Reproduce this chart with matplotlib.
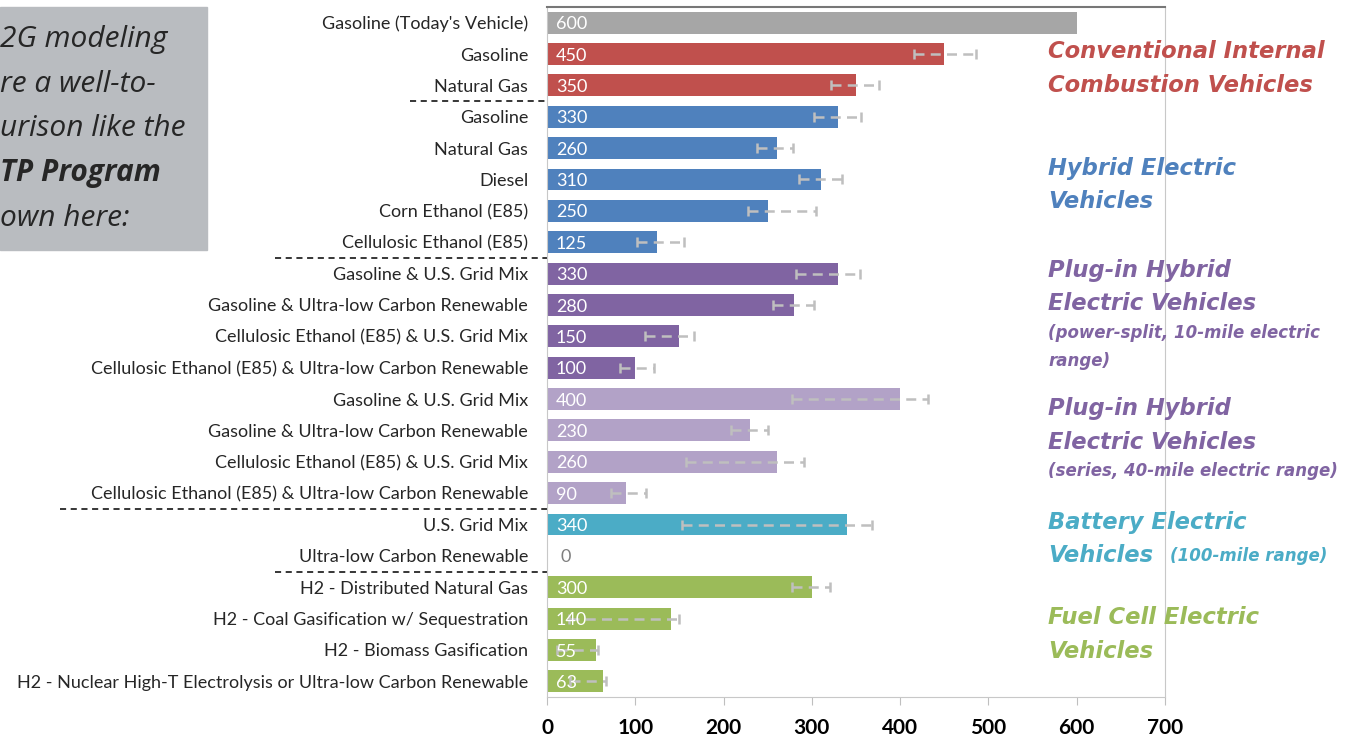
import matplotlib
matplotlib.use("Agg")
import matplotlib.pyplot as plt
from matplotlib.patches import Rectangle
import numpy as np

# datos del grafico (de arriba hacia abajo)
etiquetas = [
    "Gasoline (Today's Vehicle)",
    "Gasoline",
    "Natural Gas",
    "Gasoline",
    "Natural Gas",
    "Diesel",
    "Corn Ethanol (E85)",
    "Cellulosic Ethanol (E85)",
    "Gasoline & U.S. Grid Mix",
    "Gasoline & Ultra-low Carbon Renewable",
    "Cellulosic Ethanol (E85) & U.S. Grid Mix",
    "Cellulosic Ethanol (E85) & Ultra-low Carbon Renewable",
    "Gasoline & U.S. Grid Mix",
    "Gasoline & Ultra-low Carbon Renewable",
    "Cellulosic Ethanol (E85) & U.S. Grid Mix",
    "Cellulosic Ethanol (E85) & Ultra-low Carbon Renewable",
    "U.S. Grid Mix",
    "Ultra-low Carbon Renewable",
    "H2 - Distributed Natural Gas",
    "H2 - Coal Gasification w/ Sequestration",
    "H2 - Biomass Gasification",
    "H2 - Nuclear High-T Electrolysis or Ultra-low Carbon Renewable",
]
valores = [600, 450, 350, 330, 260, 310, 250, 125, 330, 280, 150, 100,
           400, 230, 260, 90, 340, 0, 300, 140, 55, 63]
error_bajo = [None, 416, 322, 302, 238, 285, 228, 102, 282, 256, 111, 83,
              278, 208, 158, 72, 153, None, 277, 25, 11, 26]
error_alto = [None, 486, 376, 356, 279, 334, 305, 155, 355, 302, 167, 121,
              432, 250, 291, 112, 368, None, 321, 150, 58, 67]
grupos = [0, 1, 1, 2, 2, 2, 2, 2, 3, 3, 3, 3, 4, 4, 4, 4, 5, 5, 6, 6, 6, 6]

GRIS = "#A6A6A6"
ROJO = "#C0504D"
AZUL = "#4F81BD"
MORADO = "#8064A2"
LILA = "#B2A2C7"
TURQUESA = "#4BACC6"
VERDE = "#9BBB59"
colores_grupo = [GRIS, ROJO, AZUL, MORADO, LILA, TURQUESA, VERDE]

W, H = 1356, 737
fig = plt.figure(figsize=(W / 100, H / 100), dpi=100)
ax = fig.add_axes([547 / W, 1 - 697 / H, (1165 - 547) / W, (697 - 7) / H])

n = len(valores)
y = np.arange(n)
colores = [colores_grupo[g] for g in grupos]
ax.barh(y, valores, height=0.7, color=colores, zorder=2)

# barras de error discontinuas
for i in range(n):
    if error_bajo[i] is None:
        continue
    v = valores[i]
    eb = ax.errorbar(v, i, xerr=[[v - error_bajo[i]], [error_alto[i] - v]],
                     fmt="none", ecolor="#BFBFBF", elinewidth=1.8, capsize=3.5,
                     capthick=1.8, zorder=3)
    eb[2][0].set_linestyle((0, (4, 2.5)))

# valores dentro de las barras
for i, v in enumerate(valores):
    color_txt = "white" if v > 0 else "#7F7F7F"
    ax.text(10 if v > 0 else 15, i + 0.05, str(v), color=color_txt, va="center",
            ha="left", fontsize=13, family="Lato", zorder=4)

ax.set_ylim(n - 0.5, -0.5)
ax.set_xlim(0, 700)
ax.set_yticks(y)
ax.set_yticklabels(etiquetas, fontsize=13, family="Lato", color="#262626")
ax.tick_params(axis="y", length=0, pad=13.5)
ax.set_xticks(np.arange(0, 701, 100))
ax.tick_params(axis="x", length=6, color="#BFBFBF", pad=9, labelsize=15,
               labelcolor="black")
for t in ax.get_xticklabels():
    t.set_fontweight("bold")
    t.set_family("Lato")

for lado in ["left", "right", "bottom"]:
    ax.spines[lado].set_color("#C8C8C8")
ax.spines["top"].set_color("#777777")
ax.spines["top"].set_linewidth(1.5)

# separadores entre grupos
trans = ax.get_yaxis_transform()
for yy, x0 in [(2.5, 410), (7.5, 275), (15.5, 60), (17.5, 275)]:
    ax.plot([(x0 - 547) / 618, 0], [yy, yy], transform=trans, clip_on=False,
            color="black", lw=1.1, ls=(0, (4, 3)))

# nombres de los grupos a la derecha
def texto(px, py, s, color, size=16.3):
    fig.text(px / W, 1 - py / H, s, color=color, fontsize=size,
             fontweight="bold", fontstyle="italic", family="DejaVu Sans",
             va="center", ha="left")

texto(1048, 51, "Conventional Internal", ROJO)
texto(1048, 85, "Combustion Vehicles", ROJO)
texto(1048, 168, "Hybrid Electric", AZUL)
texto(1048, 202, "Vehicles", AZUL)
texto(1048, 270, "Plug-in Hybrid", MORADO)
texto(1048, 303, "Electric Vehicles", MORADO)
texto(1048, 333, "(power-split, 10-mile electric", MORADO, 12)
texto(1048, 361, "range)", MORADO, 12)
texto(1048, 409, "Plug-in Hybrid", MORADO)
texto(1048, 442, "Electric Vehicles", MORADO)
texto(1048, 471, "(series, 40-mile electric range)", MORADO, 12)
texto(1048, 522, "Battery Electric", TURQUESA)
texto(1048, 556, "Vehicles", TURQUESA)
texto(1170, 556, "(100-mile range)", TURQUESA, 12)
texto(1048, 617, "Fuel Cell Electric", VERDE)
texto(1048, 652, "Vehicles", VERDE)

# recuadro gris arriba a la izquierda
fig.patches.append(Rectangle((0, 1 - 250 / H), 207 / W, 243 / H,
                             transform=fig.transFigure, color="#B9BCC0", zorder=0))
lineas_caja = ["2G modeling", "re a well-to-", "urison like the", "TP Program", "own here:"]
for k, s in enumerate(lineas_caja):
    fig.text(0 / W, 1 - (40 + 44.5 * k) / H, s, fontsize=21.5, fontstyle="italic",
             fontweight="bold" if k == 3 else "normal", family="Open Sans",
             color="#262626", va="center", ha="left")

fig.savefig("out.png", dpi=100)
